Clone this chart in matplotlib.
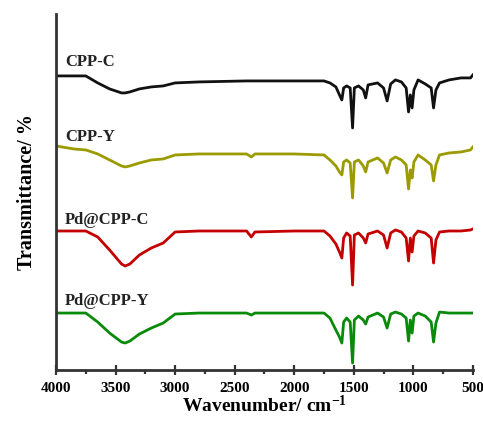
import matplotlib
matplotlib.use("Agg")
import matplotlib.pyplot as plt
import matplotlib.transforms as mtransforms
from matplotlib.ticker import MultipleLocator

plt.rcParams['font.family'] = ['Liberation Serif', 'DejaVu Serif']
plt.rcParams['font.weight'] = 'bold'
plt.rcParams['mathtext.fontset'] = 'custom'
plt.rcParams['mathtext.rm'] = 'Liberation Serif:bold'
plt.rcParams['mathtext.default'] = 'rm'

# wavenumber grid (cm-1) for the read-off points
wn = [4000, 3850, 3750, 3650, 3550, 3450, 3420, 3380, 3300, 3200, 3100, 3000,
      2800, 2400, 2360, 2330, 2000, 1750, 1700, 1650, 1620, 1600, 1585, 1560,
      1530, 1510, 1495, 1460, 1420, 1400, 1380, 1300, 1250, 1220, 1190, 1150,
      1100, 1060, 1040, 1025, 1010, 995, 960, 900, 850, 830, 810, 780, 700,
      600, 520, 500]

# stacked spectra, read as depth below the top of the plot (larger = lower)
cpp_c = [76, 76, 76, 83, 89, 93, 93, 92, 89, 87, 86, 83,
         82, 81, 81, 81, 81, 81, 83, 87, 95, 100, 88, 86,
         88, 128, 88, 86, 90, 98, 85, 83, 88, 101, 84, 80,
         82, 88, 112, 95, 108, 90, 80, 84, 88, 108, 90, 83, 80,
         78, 78, 75]

cpp_y = [146, 149, 150, 154, 160, 166, 167, 166, 163, 160, 159, 155,
         154, 154, 157, 154, 154, 155, 160, 166, 172, 175, 162, 160,
         163, 198, 162, 160, 166, 172, 162, 158, 163, 173, 160, 157,
         160, 165, 189, 170, 178, 162, 155, 160, 165, 181, 165, 155, 153,
         152, 150, 147]

pd_cpp_c = [231, 231, 231, 237, 250, 264, 266, 264, 255, 248, 243, 232,
            231, 231, 237, 232, 231, 231, 236, 244, 252, 258, 238, 233,
            236, 285, 235, 233, 238, 243, 234, 231, 235, 248, 233, 230,
            232, 238, 261, 238, 252, 236, 231, 233, 238, 263, 240, 232, 231,
            231, 230, 229]

pd_cpp_y = [313, 313, 313, 322, 333, 342, 343, 341, 334, 328, 323, 314,
            313, 313, 315, 313, 313, 313, 318, 330, 337, 343, 322, 318,
            322, 363, 320, 316, 320, 324, 317, 313, 317, 328, 314, 312,
            314, 318, 341, 320, 333, 316, 313, 316, 322, 342, 323, 312, 313,
            313, 313, 313]

names = ["CPP-C", "CPP-Y", "Pd@CPP-C", "Pd@CPP-Y"]
spectra = [cpp_c, cpp_y, pd_cpp_c, pd_cpp_y]
colours = ["#111111", "#9b9b00", "#c40000", "#0a8a0a"]
label_y = [62, 137, 220, 301]

fig = plt.figure(figsize=(4.83, 4.21), dpi=100)
ax = fig.add_axes([0.116, 0.121, 0.863, 0.846])

for name, s, c, ly in zip(names, spectra, colours, label_y):
    ax.plot(wn, s, color=c, lw=2.0)
    ax.text(3925, ly, name, fontsize=12, fontweight='bold', color='#222222',
            ha='left', va='center')

ax.set_xlim(4000, 500)
ax.set_ylim(370, 14)
ax.xaxis.set_major_locator(MultipleLocator(500))
ax.xaxis.set_minor_locator(MultipleLocator(250))
ax.set_yticks([])
for side in ["top", "right"]:
    ax.spines[side].set_visible(False)
for side in ["left", "bottom"]:
    ax.spines[side].set_linewidth(2.0)
    ax.spines[side].set_color('#333333')
ax.tick_params(axis='x', which='major', direction='inout', length=7, width=1.6,
               labelsize=11, pad=5, color='#333333')
ax.tick_params(axis='x', which='minor', direction='out', length=3, width=1.6,
               color='#333333')
fig.canvas.draw()
labels = ax.get_xticklabels()
for lab in labels:
    lab.set_fontweight('bold')
# pull the last label ("500") a touch inwards so it is not clipped
shift = mtransforms.ScaledTranslation(-3 / 100, 0, fig.dpi_scale_trans)
labels[-1].set_transform(labels[-1].get_transform() + shift)

ax.set_xlabel("Wavenumber/ cm$^{-1}$", fontsize=14, fontweight='bold', labelpad=0)
ax.set_ylabel("Transmittance/ %", fontsize=14.5, fontweight='bold', labelpad=14)

fig.savefig("out.png", dpi=100)
